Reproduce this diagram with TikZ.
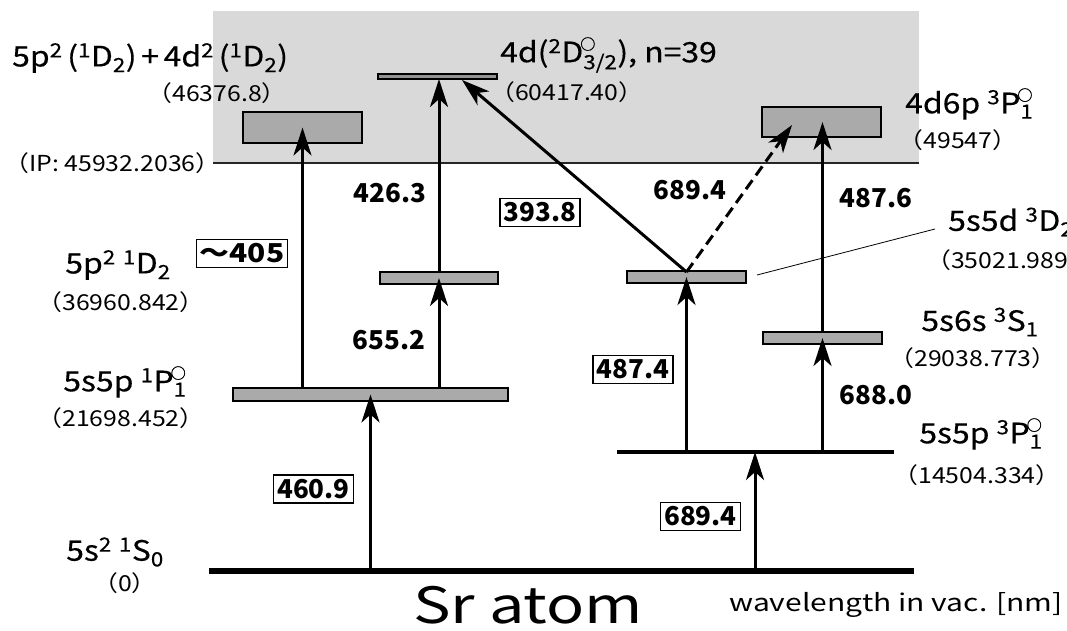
\documentclass[tikz,border=0pt]{standalone}
\usepackage{fontspec}
\setmainfont{Noto Sans CJK JP}
\newfontfamily\statefont[FakeBold=0.4,FakeStretch=1.14]{Noto Sans CJK JP}
\newfontfamily\ringfont[FakeBold=1.2]{Noto Sans CJK JP}
\newfontfamily\enfont[FakeStretch=1.13]{Noto Sans CJK JP}
\newfontfamily\titlefont[FakeStretch=1.26]{Noto Sans CJK JP}
\newfontfamily\unitfont[FakeStretch=1.25]{Noto Sans CJK JP}
\usetikzlibrary{arrows.meta}
\newcommand{\Odd}[1]{\rlap{\kern-3pt\raisebox{12.5pt}{\fontsize{15}{15}\ringfont ○}}\textsubscript{#1}}
\begin{document}
\begin{tikzpicture}[x=1pt,y=-1pt,
  lvl/.style={draw=black, line width=1.6pt, fill=gray!67, inner sep=0pt, outer sep=0pt},
  arr/.style={line width=3pt, -{Stealth[length=28pt,width=18pt,inset=8pt]}},
  wl/.style={font=\fontsize{26}{26}\selectfont\bfseries, inner sep=1pt},
  wlbox/.style={wl, draw, line width=1.5pt, inner xsep=4pt, inner ysep=4pt},
  st/.style={font=\fontsize{28}{28}\statefont, inner sep=0pt},
  en/.style={font=\fontsize{22}{22}\enfont, inner sep=0pt},
]
\useasboundingbox (0,0) rectangle (1067,630);
% continuum region
\fill[gray!30] (213,11) rectangle (919,163);
\coordinate (ipL) at (213,163);
\coordinate (ipR) at (919,163);
\draw[line width=1.5pt, black!85] (ipL) -- (ipR);

% levels
\node[lvl, minimum width=119pt, minimum height=31pt] (dd) at (302.5,127.5) {};
\node[lvl, fill=gray!85, minimum width=119pt, minimum height=5pt] (top) at (437.5,76.5) {};
\node[lvl, minimum width=119pt, minimum height=30pt] (dp) at (821.5,122) {};
\node[lvl, minimum width=118pt, minimum height=12pt] (pp) at (439,278) {};
\node[lvl, minimum width=119pt, minimum height=12pt] (sd) at (686.5,277) {};
\node[lvl, minimum width=119pt, minimum height=12pt] (ss) at (822.5,338) {};
\node[lvl, minimum width=275pt, minimum height=13pt] (P1) at (370.5,394.5) {};
\node[fill=black, inner sep=0pt, minimum width=277pt, minimum height=4pt] (P3) at (755.5,452) {};
\node[fill=black, inner sep=0pt, minimum width=705pt, minimum height=6pt] (g) at (561.5,571) {};

% arrow end points
\coordinate (x689) at (755,0);
\coordinate (t393) at (462,80);
\coordinate (tdash) at (792,125);
\coordinate (sdtop) at (686.5,272);

% transitions
\draw[arr] (P1 |- g) -- (P1.center);
\draw[arr] (x689 |- g) -- (x689 |- P3);
\draw[arr] (dd |- P1.north) -- (dd.center);
\draw[arr] (pp |- P1.north) -- (pp.center);
\draw[arr] (pp.north) -- (pp |- top.south);
\draw[arr] (sd |- P3) -- (sd.center);
\draw[arr] (ss |- P3) -- (ss.center);
\draw[arr] (ss.north) -- (ss |- dp.center);
\draw[arr] (sdtop) -- (t393);
\draw[arr, dash pattern=on 11pt off 6pt] (sdtop) -- (tdash);

% leader line
\coordinate (ldA) at (757,275);
\coordinate (ldB) at (935,229);
\draw[line width=0.8pt] (ldA) -- (ldB);

% wavelength labels
\node[wlbox] (w4609) at (313.5,489) {460.9};
\node[wlbox] (w6894b) at (700.5,516.5) {689.4};
\node[wlbox] (w4874) at (633,369.5) {487.4};
\node[wlbox] (w3938) at (540,212.5) {393.8};
\node[wlbox, font=\fontsize{26}{26}\selectfont\bfseries\addfontfeature{FakeStretch=1.15}, inner xsep=3pt] (w405) at (242,253.5) {～405};
\node[wl] (w4263) at (390,193) {426.3};
\node[wl] (w6552) at (389,340) {655.2};
\node[wl] (w6894) at (690,190) {689.4};
\node[wl] (w4876) at (876,198) {487.6};
\node[wl] (w6880) at (876,395) {688.0};

% state labels
\node[st, anchor=west] (l1) at (12,58) {5p\textsuperscript{2}\,(\textsuperscript{1}D\textsubscript{2})\,+\,4d\textsuperscript{2}\,(\textsuperscript{1}D\textsubscript{2})};
\node[en, anchor=east] (e1) at (287,93) {（46376.8）};
\node[en, anchor=west] (ip) at (4,163) {（IP: 45932.2036）};
\node[st, anchor=west] (l2) at (500,55) {4d(\textsuperscript{2}D\Odd{3/2}), n=39};
\node[en, anchor=west] (e2) at (490,92) {（60417.40）};
\node[st, anchor=west] (l3) at (905,104) {4d6p \textsuperscript{3}P\Odd{1}};
\node[en] (e3) at (958,140) {（49547）};
\node[st, anchor=west] (l4) at (948,222) {5s5d \textsuperscript{3}D\textsubscript{2}};
\node[en, anchor=west] (e4) at (926,260) {（35021.989）};
\node[st] (l5) at (118,265) {5p\textsuperscript{2} \textsuperscript{1}D\textsubscript{2}};
\node[en] (e5) at (121,302) {（36960.842）};
\node[st] (l6) at (125,382) {5s5p \textsuperscript{1}P\Odd{1}};
\node[en] (e6) at (121,418) {（21698.452）};
\node[st] (l7) at (980,322) {5s6s \textsuperscript{3}S\textsubscript{1}};
\node[en] (e7) at (973,358) {（29038.773）};
\node[st] (l8) at (981,434) {5s5p \textsuperscript{3}P\Odd{1}};
\node[en] (e8) at (977,475) {（14504.334）};
\node[st] (l9) at (115,552) {5s\textsuperscript{2} \textsuperscript{1}S\textsubscript{0}};
\node[en] (e9) at (125,583) {（0）};

\node[font=\fontsize{50}{50}\titlefont, inner sep=0pt] (title) at (528,605) {Sr atom};
\node[font=\fontsize{24}{24}\unitfont, inner sep=0pt] (unit) at (896,605) {wavelength in vac. [nm]};
\end{tikzpicture}
\end{document}
